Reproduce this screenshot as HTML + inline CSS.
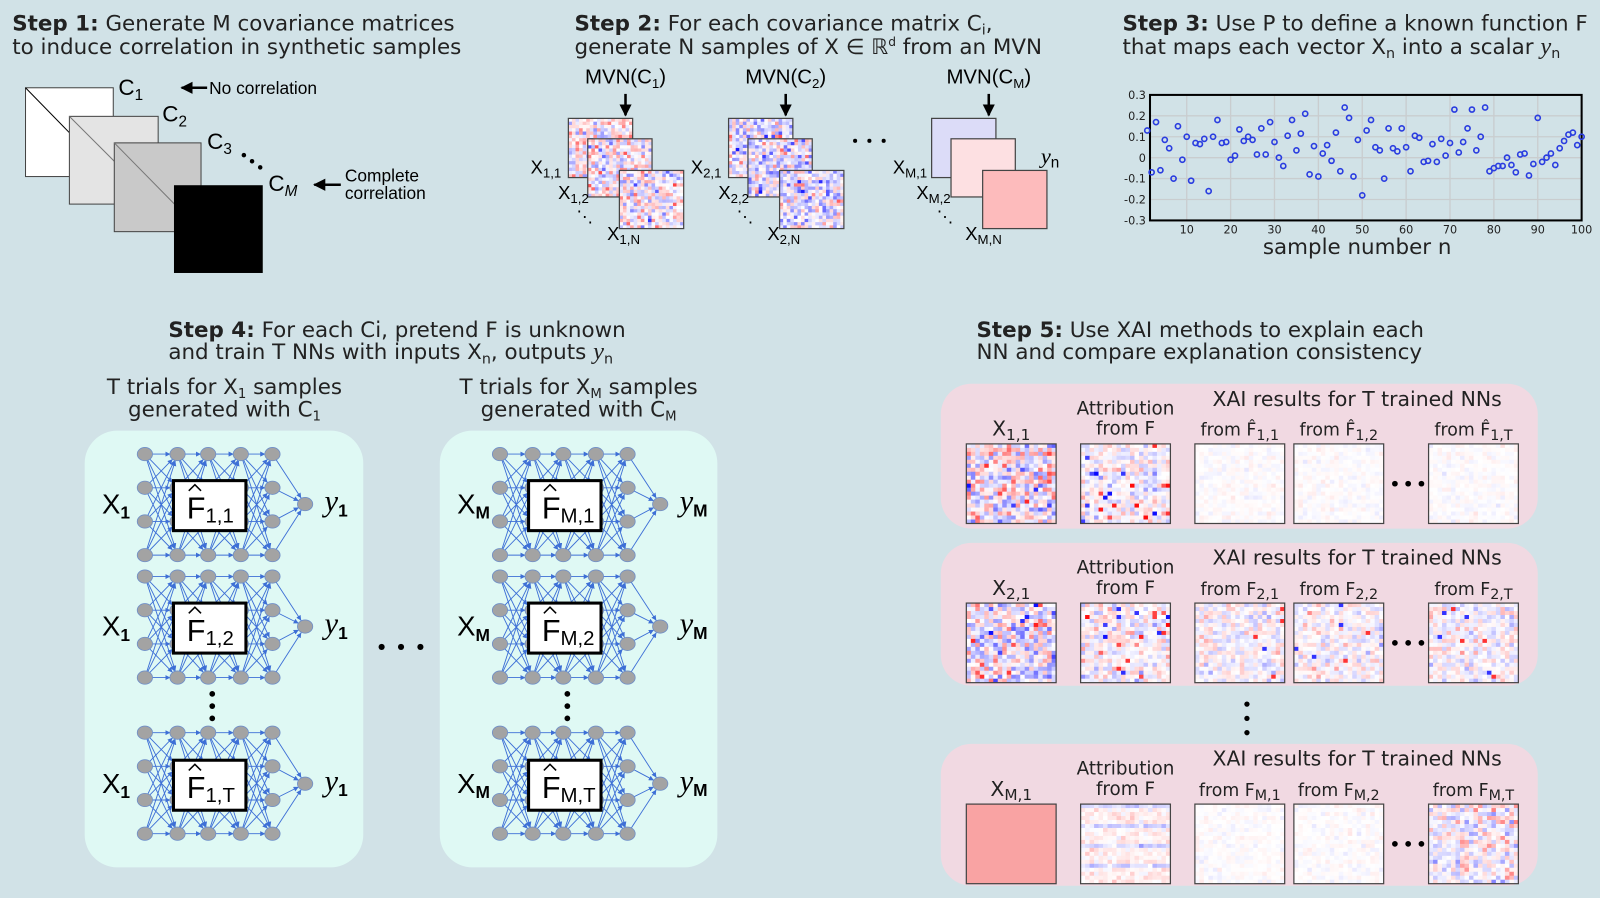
<!DOCTYPE html>
<html><head><meta charset="utf-8">
<style>
html,body{margin:0;padding:0;background:#d1e2e7;}
svg{display:block;}
.t{font-family:"DejaVu Sans","Liberation Sans",sans-serif;fill:#222;}
.b{font-weight:bold;}
.r{font-family:"Liberation Sans",sans-serif;fill:#000;}
.sr{font-family:"Liberation Serif",serif;font-style:italic;fill:#000;}
</style></head>
<body>
<svg id="s" width="1600" height="898" viewBox="0 0 1568 880" xmlns="http://www.w3.org/2000/svg">
<defs>
<marker id="ah" viewBox="0 0 10 10" refX="10" refY="5" markerWidth="5" markerHeight="5" markerUnits="userSpaceOnUse" orient="auto"><path d="M0,0L10,5L0,10z" fill="#3d6fd6"/></marker>
<marker id="bk" viewBox="0 0 10 10" refX="9" refY="5" markerWidth="12" markerHeight="12" markerUnits="userSpaceOnUse" orient="auto"><path d="M0,0L10,5L0,10z" fill="#000"/></marker>
</defs>
<rect width="1568" height="880" fill="#d1e2e7"/>

<g font-size="21">
<text class="t" x="12" y="30"><tspan class="b">Step 1:</tspan> Generate M covariance matrices</text>
<text class="t" x="12" y="53">to induce correlation in synthetic samples</text>
<text class="t" x="563" y="30"><tspan class="b">Step 2:</tspan> For each covariance matrix C<tspan font-size="14" dy="4">i</tspan><tspan dy="-4">,</tspan></text>
<text class="t" x="563" y="53">generate N samples of X ∈ ℝ<tspan font-size="12" dy="-8">d</tspan><tspan dy="8"> from an MVN</tspan></text>
<text class="t" x="1100" y="30"><tspan class="b">Step 3:</tspan> Use P to define a known function F</text>
<text class="t" x="1100" y="53">that maps each vector X<tspan font-size="14" dy="4">n</tspan><tspan dy="-4"> into a scalar </tspan><tspan font-family="Liberation Serif" font-style="italic" font-size="24">y</tspan><tspan font-size="14" dy="4">n</tspan></text>
<text class="t" x="165" y="330"><tspan class="b">Step 4:</tspan> For each Ci, pretend F is unknown</text>
<text class="t" x="165" y="352">and train T NNs with inputs X<tspan font-size="14" dy="4">n</tspan><tspan dy="-4">, outputs </tspan><tspan font-family="Liberation Serif" font-style="italic" font-size="24">y</tspan><tspan font-size="14" dy="4">n</tspan></text>
<text class="t" x="957" y="330"><tspan class="b">Step 5:</tspan> Use XAI methods to explain each</text>
<text class="t" x="957" y="352">NN and compare explanation consistency</text>
</g>

<g stroke="#444" stroke-width="1">
<rect x="25" y="86" width="86" height="87" fill="#fff"/><line x1="25" y1="86" x2="68" y2="130" stroke="#000"/>
<rect x="68" y="114" width="87" height="86" fill="#e4e4e4"/><line x1="68" y1="114" x2="112" y2="158" stroke="#777"/>
<rect x="112" y="140" width="85" height="87" fill="#c9c9c9"/><line x1="112" y1="140" x2="171" y2="200" stroke="#777"/>
<rect x="171" y="182" width="86" height="85" fill="#000" stroke="#000"/>
</g>
<text class="r" x="116" y="93" font-size="22">C<tspan font-size="15" dy="5">1</tspan></text>
<text class="r" x="159" y="119" font-size="22">C<tspan font-size="15" dy="5">2</tspan></text>
<text class="r" x="203" y="146" font-size="22">C<tspan font-size="15" dy="5">3</tspan></text>
<circle cx="239" cy="152" r="2.2"/><circle cx="247" cy="158" r="2.2"/><circle cx="255" cy="164" r="2.2"/>
<text class="r" x="263" y="187" font-size="22">C<tspan font-size="15" dy="5" font-style="italic">M</tspan></text>
<line x1="203" y1="86" x2="178" y2="86" stroke="#000" stroke-width="2.5" marker-end="url(#bk)"/>
<text class="r" x="205" y="92" font-size="17">No correlation</text>
<line x1="334" y1="181" x2="308" y2="181" stroke="#000" stroke-width="2.5" marker-end="url(#bk)"/>
<text class="r" x="338" y="178" font-size="17">Complete</text>
<text class="r" x="338" y="195" font-size="17">correlation</text>

<g id="step2"></g>
<text class="sr" x="1020" y="160" font-size="22">y<tspan font-family="Liberation Sans" font-style="normal" font-size="15" dy="4">n</tspan></text>
<circle cx="838" cy="138" r="2"/><circle cx="852" cy="138" r="2"/><circle cx="866" cy="138" r="2"/>

<g id="plot"></g>
<text class="t" x="1330" y="249" text-anchor="middle" style="font-size:21px">sample number n</text>

<g font-size="21">
<text class="t" x="220" y="386" text-anchor="middle">T trials for X<tspan font-size="13" dy="4">1</tspan><tspan dy="-4"> samples</tspan></text>
<text class="t" x="220" y="408" text-anchor="middle">generated with C<tspan font-size="13" dy="4">1</tspan></text>
<text class="t" x="567" y="386" text-anchor="middle">T trials for X<tspan font-size="13" dy="4">M</tspan><tspan dy="-4"> samples</tspan></text>
<text class="t" x="567" y="408" text-anchor="middle">generated with C<tspan font-size="13" dy="4">M</tspan></text>
</g>
<rect x="83" y="422" width="273" height="428" rx="32" fill="#dff9f4"/>
<rect x="431" y="422" width="272" height="428" rx="32" fill="#dff9f4"/>
<g id="nets"></g>
<circle cx="374" cy="634" r="3"/><circle cx="393" cy="634" r="3"/><circle cx="412" cy="634" r="3"/>

<rect x="922" y="376" width="585" height="142" rx="30" fill="#f1d9e2"/>
<rect x="922" y="532" width="585" height="140" rx="30" fill="#f1d9e2"/>
<rect x="922" y="729" width="585" height="139" rx="30" fill="#f1d9e2"/>
<g id="xai"></g>
<circle cx="1222" cy="690" r="2.6"/><circle cx="1222" cy="704" r="2.6"/><circle cx="1222" cy="718" r="2.6"/>
</svg>
<script>
var NS="http://www.w3.org/2000/svg";
function el(p,tag,a,txt){var e=document.createElementNS(NS,tag);for(var k in a)e.setAttribute(k,a[k]);if(txt!=null)e.textContent=txt;p.appendChild(e);return e;}
var seed=12345;function rnd(){seed|=0;seed=seed+0x6D2B79F5|0;var t=Math.imul(seed^seed>>>15,1|seed);t=t+Math.imul(t^t>>>7,61|t)^t;return((t^t>>>14)>>>0)/4294967296;}
function g(){return Math.sqrt(-2*Math.log(rnd()+1e-9))*Math.cos(2*Math.PI*rnd());}
function col(v){v=Math.max(-1,Math.min(1,v));if(v>=0){var c=Math.round(255*(1-v));return"rgb(255,"+c+","+c+")";}var c2=Math.round(255*(1+v));return"rgb("+c2+","+c2+",255)";}
function heat(p,x,y,w,h,n,gen){var cw=w/n,ch=h/n;for(var i=0;i<n;i++)for(var j=0;j<n;j++){el(p,"rect",{x:x+j*cw,y:y+i*ch,width:cw+0.3,height:ch+0.3,fill:col(gen(i,j))});}el(p,"rect",{x:x,y:y,width:w,height:h,fill:"none",stroke:"#444","stroke-width":1.2});}
function solid(p,x,y,w,h,f){el(p,"rect",{x:x,y:y,width:w,height:h,fill:f,stroke:"#444","stroke-width":1.2});}
var s2=document.getElementById("step2");
var sets=[[557,function(){return g()*0.25;}],[714,function(){return g()*0.27-0.1;}]];
var offs=[[0,0,63,58],[19,20,63,57],[50,51,63,57]];
sets.forEach(function(s,k){var x0=s[0];offs.forEach(function(o){heat(s2,x0+o[0],116+o[1],o[2],o[3],18,s[1]);});
 var lbl=k==0?"1":"2";
 el(s2,"text",{x:x0+56,y:82,"class":"r","font-size":20,"text-anchor":"middle"}).innerHTML='MVN(C<tspan font-size="13" dy="4">'+lbl+'</tspan><tspan dy="-4">)</tspan>';
 el(s2,"line",{x1:x0+56,y1:92,x2:x0+56,y2:113,stroke:"#000","stroke-width":2.5,"marker-end":"url(#bk)"});
 el(s2,"text",{x:x0-37,y:170,"class":"r","font-size":18}).innerHTML='X<tspan font-size="13" dy="4">'+lbl+',1</tspan>';
 el(s2,"text",{x:x0-10,y:195,"class":"r","font-size":18}).innerHTML='X<tspan font-size="13" dy="4">'+lbl+',2</tspan>';
 el(s2,"text",{x:x0+8,y:218,"class":"r","font-size":16},"⋱");
 el(s2,"text",{x:x0+38,y:235,"class":"r","font-size":18}).innerHTML='X<tspan font-size="13" dy="4">'+lbl+',N</tspan>';
});
(function(){var x0=913;solid(s2,x0,116,63,58,"#dcdcf8");solid(s2,x0+19,136,63,57,"#fde0e2");solid(s2,x0+50,167,63,57,"#fdbbbc");
 el(s2,"text",{x:x0+56,y:82,"class":"r","font-size":20,"text-anchor":"middle"}).innerHTML='MVN(C<tspan font-size="13" dy="4">M</tspan><tspan dy="-4">)</tspan>';
 el(s2,"line",{x1:x0+56,y1:92,x2:x0+56,y2:113,stroke:"#000","stroke-width":2.5,"marker-end":"url(#bk)"});
 el(s2,"text",{x:x0-38,y:170,"class":"r","font-size":18}).innerHTML='X<tspan font-size="13" dy="4">M,1</tspan>';
 el(s2,"text",{x:x0-15,y:195,"class":"r","font-size":18}).innerHTML='X<tspan font-size="13" dy="4">M,2</tspan>';
 el(s2,"text",{x:x0+5,y:218,"class":"r","font-size":16},"⋱");
 el(s2,"text",{x:x0+33,y:235,"class":"r","font-size":18}).innerHTML='X<tspan font-size="13" dy="4">M,N</tspan>';
})();
var pl=document.getElementById("plot");
function xp(n){return 1120+n*4.3;}function yp(v){return 154.5-v*205;}
for(var n=10;n<=100;n+=10){el(pl,"line",{x1:xp(n),y1:93,x2:xp(n),y2:216,stroke:"#c9cdcf","stroke-width":1.3});el(pl,"text",{x:xp(n),y:229,"class":"t",style:"font-size:11px","text-anchor":"middle"},String(n));}
var yl=["0.3","0.2","0.1","0","-0.1","-0.2","-0.3"];
for(var i=0;i<7;i++){var v=0.3-0.1*i;el(pl,"line",{x1:1127,y1:yp(v),x2:1550,y2:yp(v),stroke:"#c9cdcf","stroke-width":1.3});el(pl,"text",{x:1123,y:yp(v)+4,"class":"t",style:"font-size:11px","text-anchor":"end"},yl[i]);}
el(pl,"rect",{x:1127,y:93,width:423,height:123,fill:"none",stroke:"#000","stroke-width":2});
var d=[0.13,-0.07,0.17,-0.06,0.085,0.045,-0.1,0.15,-0.01,0.1,-0.11,0.07,0.065,0.09,-0.16,0.1,0.18,0.07,0.075,-0.01,0.01,0.135,0.08,0.1,0.085,0.015,0.14,0.015,0.17,0.075,0,-0.04,0.105,0.18,0.035,0.115,0.21,-0.08,0.055,-0.09,0.02,0.06,-0.015,0.12,-0.065,0.24,0.19,-0.09,0.085,-0.18,0.13,0.18,0.05,0.035,-0.1,0.14,0.045,0.03,0.14,0.05,-0.065,0.105,0.095,-0.02,-0.015,0.065,-0.02,0.09,0.01,0.07,0.23,0.025,0.075,0.14,0.23,0.035,0.1,0.24,-0.065,-0.05,-0.04,-0.04,0,-0.035,-0.07,0.015,0.02,-0.085,-0.03,0.19,-0.02,0,0.02,-0.035,0.045,0.08,0.11,0.12,0.06,0.1];
d.forEach(function(v,i){el(pl,"circle",{cx:xp(i+1),cy:yp(v),r:2.5,fill:"none",stroke:"#2a3de0","stroke-width":1.6});});
var nets=document.getElementById("nets");
function net(x0,y0,yo,lx,ly,sub){var xs=[x0,x0+32,x0+62,x0+94,x0+125],xo=x0+157;var ys=[y0,y0+33,y0+66,y0+99];
 var G=el(nets,"g",{stroke:"#3d6fd6","stroke-width":0.9});
 for(var l=0;l<4;l++)for(var a=0;a<4;a++)for(var b=0;b<4;b++){var dx=xs[l+1]-xs[l],dy=ys[b]-ys[a],L=Math.sqrt(dx*dx+dy*dy),k=(L-7)/L;el(G,"line",{x1:xs[l],y1:ys[a],x2:xs[l]+dx*k,y2:ys[a]+dy*k,"marker-end":"url(#ah)"});}
 for(var a=0;a<4;a++){var dx=xo-xs[4],dy=yo-ys[a],L=Math.sqrt(dx*dx+dy*dy),k=(L-7)/L;el(G,"line",{x1:xs[4],y1:ys[a],x2:xs[4]+dx*k,y2:ys[a]+dy*k,"marker-end":"url(#ah)"});}
 xs.forEach(function(x){ys.forEach(function(y){el(nets,"ellipse",{cx:x,cy:y,rx:7.5,ry:6.5,fill:"#a3a3a3",stroke:"#6f8fc8","stroke-width":0.8});});});
 el(nets,"ellipse",{cx:xo,cy:yo,rx:7.5,ry:6.5,fill:"#a3a3a3",stroke:"#6f8fc8","stroke-width":0.8});
 var by=yo-23;el(nets,"rect",{x:x0+28,y:by,width:71,height:49,fill:"#fff",stroke:"#000","stroke-width":3});
 el(nets,"text",{x:x0+41,y:by+37,"class":"r","font-size":30}).innerHTML='F<tspan font-size="20" dy="4">'+sub+'</tspan>';
 el(nets,"path",{d:"M"+(x0+43)+","+(by+10)+"L"+(x0+49)+","+(by+4)+"L"+(x0+55)+","+(by+10),fill:"none",stroke:"#000","stroke-width":1.5});
 el(nets,"text",{x:x0-42,y:yo+9,"class":"r","font-size":27}).innerHTML='X<tspan font-size="17" dy="5" font-weight="bold">'+lx+'</tspan>';
 el(nets,"text",{x:x0+176,y:yo+7,"class":"sr","font-size":30}).innerHTML='y<tspan font-family="Liberation Sans" font-style="normal" font-weight="bold" font-size="17" dy="5">'+ly+'</tspan>';
}
[[445,494,"1,1","M,1"],[565,614,"1,2","M,2"],[718,768,"1,T","M,T"]].forEach(function(r){net(142,r[0],r[1],"1","1",r[2]);net(490,r[0],r[1],"M","M",r[3]);});
[[208,680],[556,680]].forEach(function(p){for(var i=0;i<3;i++)el(nets,"circle",{cx:p[0],cy:p[1]+i*12,r:2.8});});
var X=document.getElementById("xai");
var xsq=[947,1059,1171,1268,1400];
function row(ty,sy,idx,gens,hat){
 el(X,"text",{x:1330,y:ty,"class":"t",style:"font-size:20px","text-anchor":"middle"},"XAI results for T trained NNs");
 var ly=sy-8;
 el(X,"text",{x:991,y:ly,"class":"t",style:"font-size:20px","text-anchor":"middle"}).innerHTML='X<tspan font-size="15" dy="4">'+idx+',1</tspan>';
 el(X,"text",{x:1103,y:sy-29,"class":"t",style:"font-size:18px","text-anchor":"middle"},"Attribution");
 el(X,"text",{x:1103,y:sy-9,"class":"t",style:"font-size:18px","text-anchor":"middle"},"from F");
 var f=hat?"F\u0302":"F";
 [["1",1215],["2",1312],["T",1444]].forEach(function(q){el(X,"text",{x:q[1],y:ly,"class":"t",style:"font-size:17px","text-anchor":"middle"}).innerHTML='from '+f+'<tspan font-size="14" dy="4">'+idx+','+q[0]+'</tspan>';});
 gens.forEach(function(gf,i){if(typeof gf==="string")solid(X,xsq[i],sy,88,78,gf);else heat(X,xsq[i],sy,88,78,20,gf);});
 var dy=sy+39;[1367,1380,1393].forEach(function(cx){el(X,"circle",{cx:cx,cy:dy,r:2.8});});
}
function strong(){return g()*0.32;}
function sparse(){var v=g()*0.15;if(rnd()<0.05)v=(rnd()<0.5?-1:1)*(0.6+rnd()*0.4);return v;}
function faint(){return g()*0.035;}
function mid(){var v=g()*0.13;if(rnd()<0.02)v=(rnd()<0.5?-1:1)*0.8;return v;}
function band(i){return g()*0.07+(i%5==0?-0.15:0.06);}
row(398,435,"1",[strong,sparse,faint,faint,faint],true);
row(553,591,"2",[function(){return g()*0.3-0.05;},sparse,mid,mid,mid],false);
row(750,788,"M",["#f9a3a3",band,faint,faint,function(){return g()*0.18;}],false);
</script>
</body></html>
